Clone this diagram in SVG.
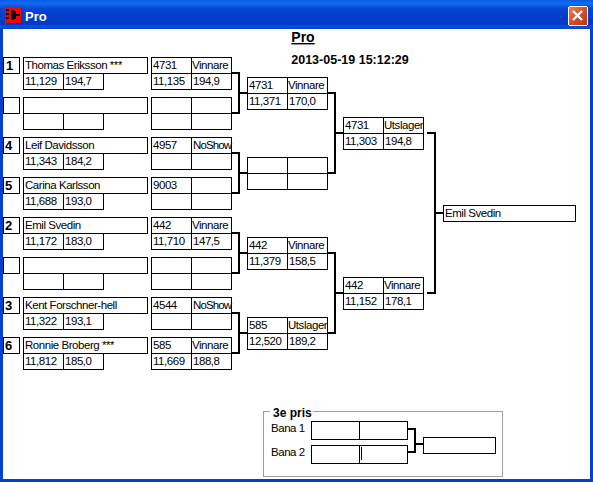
<svg xmlns="http://www.w3.org/2000/svg" width="593" height="482" viewBox="0 0 593 482">
<style>
rect,line,path{shape-rendering:crispEdges}
.b{fill:#fff;stroke:#000;stroke-width:1}
.l{stroke:#000;stroke-width:1;fill:none}
.c{stroke:#000;stroke-width:2;fill:none}
text{font-family:"Liberation Sans",Arial,sans-serif;font-size:11.5px;letter-spacing:-0.45px;fill:#000}
.n{font-weight:bold;font-size:13px;letter-spacing:0}
.h{font-weight:bold;font-size:13px;letter-spacing:0}
.ns{letter-spacing:-0.9px}
</style>
<defs>
<linearGradient id="tb" x1="0" y1="0" x2="0" y2="1">
<stop offset="0" stop-color="#0a5ae6"/><stop offset="0.12" stop-color="#0f6cf2"/><stop offset="0.3" stop-color="#0345d0"/><stop offset="0.8" stop-color="#0138c8"/><stop offset="0.92" stop-color="#0350dc"/><stop offset="1" stop-color="#0340c8"/>
</linearGradient>
<linearGradient id="cb" x1="0" y1="0" x2="1" y2="1">
<stop offset="0" stop-color="#e8855f"/><stop offset="0.5" stop-color="#d4502c"/><stop offset="1" stop-color="#b83414"/>
</linearGradient>
<g id="player"><rect class="b" x="23.5" y="0.5" width="124" height="16"/><rect class="b" x="23.5" y="16.5" width="40" height="16"/><rect class="b" x="63.5" y="16.5" width="40" height="16"/><rect class="b" x="3.5" y="0.5" width="16" height="16"/></g>
<g id="res"><rect class="b" x="0.5" y="0.5" width="80" height="32"/><line class="l" x1="0" y1="16.5" x2="81" y2="16.5"/><line class="l" x1="40.5" y1="0" x2="40.5" y2="33"/></g>
</defs>
<rect width="593" height="482" fill="#0340d0"/>
<rect x="0" y="0" width="593" height="29" fill="url(#tb)"/>
<rect x="3" y="29" width="587" height="450" fill="#fff"/>
<g id="titlebar">
<rect x="5" y="7" width="16" height="16" fill="#f00"/>
<path d="M6 9h3v2h-3zM6 13h3v2h-3zM6 17h3v2h-3zM11 10h3v1h2v3h4v2h-4v3h-2v1h-3z" fill="#000"/>
<text x="25" y="21" style="font-weight:bold;font-size:13px;letter-spacing:0;fill:#fff">Pro</text>
<rect x="568.5" y="6.5" width="19" height="19" rx="2" fill="url(#cb)" stroke="#fff"/>
<path d="M573 11l9 9M582 11l-9 9" stroke="#fff" stroke-width="2.4" style="shape-rendering:auto"/>
</g>
<g id="heading">
<text class="h" x="303" y="42" text-anchor="middle" style="font-size:14px;text-decoration:underline">Pro</text>
<text class="h" x="350" y="64" text-anchor="middle" style="font-size:12.5px">2013-05-19 15:12:29</text>
</g>
<g id="connectors">
<path class="c" d="M231 73H239V113H231M239 93H247"/>
<path class="c" d="M231 153H239V193H231M239 173H247"/>
<path class="c" d="M231 233H239V273H231M239 253H247"/>
<path class="c" d="M231 313H239V353H231M239 333H247"/>
<path class="c" d="M327 93H335V173H327M335 133H343"/>
<path class="c" d="M327 253H335V333H327M335 293H343"/>
<path class="c" d="M427 133H435V293H427M435 213H443"/>
<path class="c" d="M408 429H415V452H408M415 444H423"/>
</g>
<g id="p1"><use href="#player" y="57"/><text class="n" x="6" y="70">1</text><text x="25" y="69">Thomas Eriksson ***</text><text x="25" y="85">11,129</text><text x="65" y="85">194,7</text></g>
<g id="p-bye1"><use href="#player" y="97"/></g>
<g id="p4"><use href="#player" y="137"/><text class="n" x="5" y="150">4</text><text x="25" y="149">Leif Davidsson</text><text x="25" y="165">11,343</text><text x="65" y="165">184,2</text></g>
<g id="p5"><use href="#player" y="177"/><text class="n" x="5" y="190">5</text><text x="25" y="189">Carina Karlsson</text><text x="25" y="205">11,688</text><text x="65" y="205">193,0</text></g>
<g id="p2"><use href="#player" y="217"/><text class="n" x="5" y="230">2</text><text x="25" y="229">Emil Svedin</text><text x="25" y="245">11,172</text><text x="65" y="245">183,0</text></g>
<g id="p-bye2"><use href="#player" y="257"/></g>
<g id="p3"><use href="#player" y="297"/><text class="n" x="5" y="310">3</text><text x="25" y="309">Kent Forschner-hell</text><text x="25" y="325">11,322</text><text x="65" y="325">193,1</text></g>
<g id="p6"><use href="#player" y="337"/><text class="n" x="5" y="350">6</text><text x="25" y="349">Ronnie Broberg ***</text><text x="25" y="365">11,812</text><text x="65" y="365">185,0</text></g>
<g id="r1-1"><use href="#res" x="151" y="57"/><text x="153" y="69">4731</text><text x="192" y="69">Vinnare</text><text x="153" y="85">11,135</text><text x="193" y="85">194,9</text></g>
<g id="r1-2"><use href="#res" x="151" y="97"/></g>
<g id="r1-3"><use href="#res" x="151" y="137"/><text x="153" y="149">4957</text><text class="ns" x="193" y="149">NoShow</text></g>
<g id="r1-4"><use href="#res" x="151" y="177"/><text x="153" y="189">9003</text></g>
<g id="r1-5"><use href="#res" x="151" y="217"/><text x="153" y="229">442</text><text x="192" y="229">Vinnare</text><text x="153" y="245">11,710</text><text x="193" y="245">147,5</text></g>
<g id="r1-6"><use href="#res" x="151" y="257"/></g>
<g id="r1-7"><use href="#res" x="151" y="297"/><text x="153" y="309">4544</text><text class="ns" x="193" y="309">NoShow</text></g>
<g id="r1-8"><use href="#res" x="151" y="337"/><text x="153" y="349">585</text><text x="192" y="349">Vinnare</text><text x="153" y="365">11,669</text><text x="193" y="365">188,8</text></g>
<g id="r2-1"><use href="#res" x="247" y="77"/><text x="249" y="89">4731</text><text x="288" y="89">Vinnare</text><text x="249" y="105">11,371</text><text x="289" y="105">170,0</text></g>
<g id="r2-2"><use href="#res" x="247" y="157"/></g>
<g id="r2-3"><use href="#res" x="247" y="237"/><text x="249" y="249">442</text><text x="288" y="249">Vinnare</text><text x="249" y="265">11,379</text><text x="289" y="265">158,5</text></g>
<g id="r2-4"><use href="#res" x="247" y="317"/><text x="249" y="329">585</text><text x="288" y="329">Utslager</text><text x="249" y="345">12,520</text><text x="289" y="345">189,2</text></g>
<g id="r3-1"><use href="#res" x="343" y="117"/><text x="345" y="129">4731</text><text x="384" y="129">Utslager</text><text x="345" y="145">11,303</text><text x="385" y="145">194,8</text></g>
<g id="r3-2"><use href="#res" x="343" y="277"/><text x="345" y="289">442</text><text x="384" y="289">Vinnare</text><text x="345" y="305">11,152</text><text x="385" y="305">178,1</text></g>
<g id="final"><rect class="b" x="443.5" y="205.5" width="132" height="16"/><text x="445" y="217">Emil Svedin</text></g>
<g id="third">
<rect x="263.5" y="411.5" width="239" height="65" fill="none" stroke="#a0a0a0"/>
<rect x="270" y="405" width="43" height="14" fill="#fff"/>
<text x="273" y="417" style="font-weight:bold;font-size:12px;letter-spacing:0">3e pris</text>
<text x="271" y="432">Bana 1</text>
<text x="271" y="456">Bana 2</text>
<rect class="b" x="311.5" y="421.5" width="96" height="18"/><line class="l" x1="359.5" y1="421" x2="359.5" y2="440"/>
<rect class="b" x="311.5" y="445.5" width="96" height="18"/><line class="l" x1="359.5" y1="445" x2="359.5" y2="464"/><line class="l" x1="361.5" y1="447" x2="361.5" y2="460"/>
<rect class="b" x="423.5" y="437.5" width="72" height="16"/>
</g>
</svg>
